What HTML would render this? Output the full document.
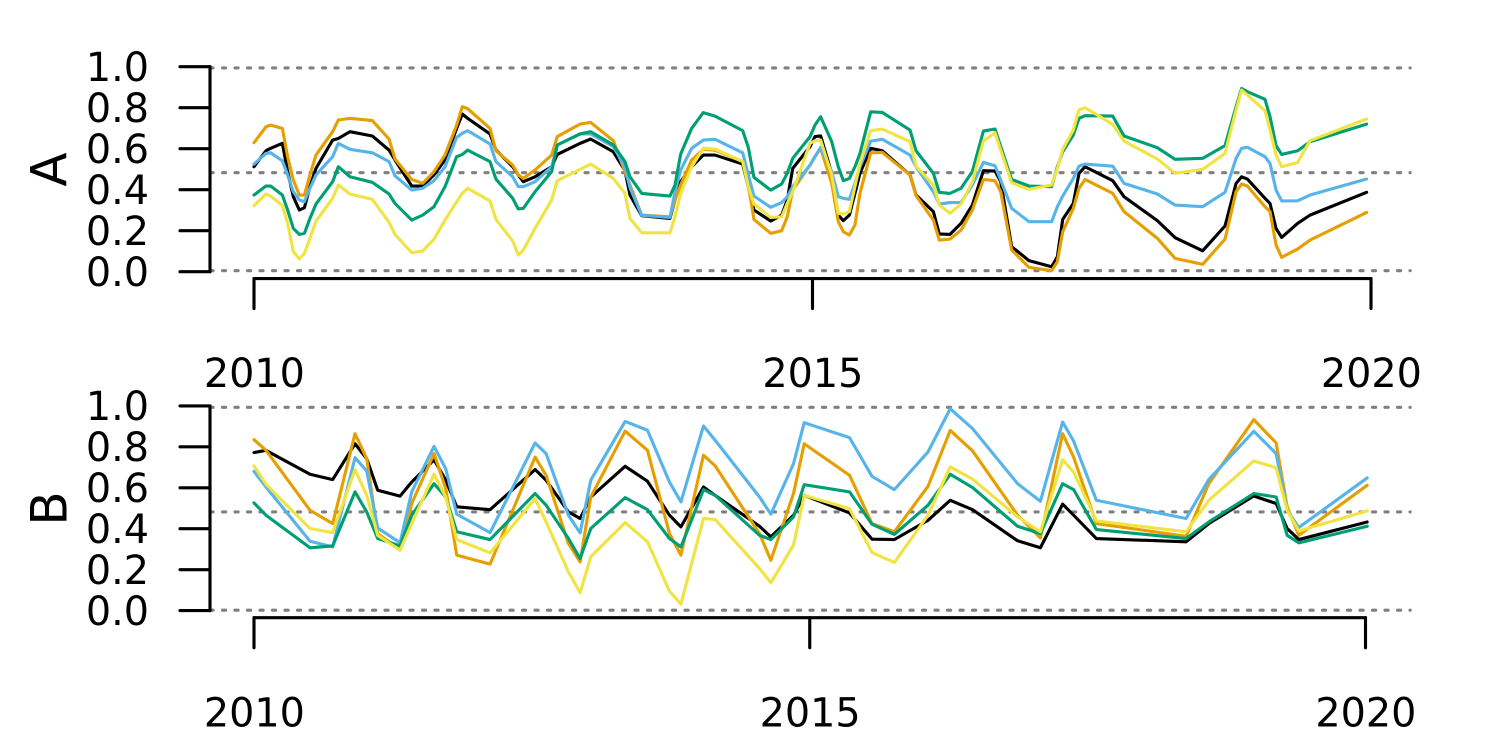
<!DOCTYPE html>
<html lang="en">
<head>
<meta charset="utf-8">
<title>Panels A and B time series, 2010-2020</title>
<style>
html,body{margin:0;padding:0;background:#fff;}
svg{display:block;}
text{font-family:"DejaVu Sans","Liberation Sans",sans-serif;fill:#000;}
</style>
</head>
<body>
<svg id="chart" xmlns="http://www.w3.org/2000/svg" width="1500" height="750" viewBox="0 0 1500 750"></svg>
<script>
const yTicks = [0, 0.2, 0.4, 0.6, 0.8, 1];
const yTickLabels = ["0.0", "0.2", "0.4", "0.6", "0.8", "1.0"];
const xTicks = [2010, 2015, 2020];
const xTickLabels = ["2010", "2015", "2020"];
const seriesNames = ["black", "orange", "blue", "green", "yellow"];
const seriesColors = ["#000000", "#E69F00", "#56B4E9", "#009E73", "#F0E442"];
const refLevelsA = [0.005, 0.483, 0.994];
const refLevelsB = [0.002, 0.482, 0.993];

const timesA = [2010.000,2010.107,2010.149,2010.254,2010.301,2010.352,2010.406,2010.451,2010.501,2010.555,2010.704,2010.755,2010.859,2011.059,2011.209,2011.262,2011.412,2011.510,2011.611,2011.710,2011.814,2011.865,2011.913,2012.113,2012.166,2012.316,2012.366,2012.411,2012.516,2012.665,2012.715,2012.919,2013.014,2013.217,2013.321,2013.366,
2013.471,2013.724,2013.769,2013.820,2013.918,2014.022,2014.127,2014.375,2014.425,2014.476,2014.626,2014.724,2014.774,2014.823,2014.978,2015.022,2015.073,2015.172,2015.231,2015.276,2015.330,2015.380,2015.425,2015.521,2015.625,2015.873,2015.927,2016.082,2016.135,2016.231,2016.330,2016.431,2016.530,2016.634,2016.685,
2016.783,2016.938,2017.141,2017.192,2017.240,2017.335,2017.386,2017.440,2017.688,2017.789,2018.087,2018.246,2018.493,2018.693,2018.792,2018.842,2018.893,2019.051,2019.096,2019.150,2019.200,2019.344,2019.454,2019.961];
const blackA = [.512,.590,.602,.626,.488,.366,.301,.312,.415,.504,.642,.650,.683,.662,.593,.545,.418,.418,.472,.545,.699,.769,.748,.672,.593,.512,.472,.439,.463,.512,.572,.626,.647,.585,.493,.374,
.273,.260,.350,.439,.512,.569,.569,.525,.415,.301,.247,.276,.350,.504,.610,.659,.662,.480,.276,.249,.276,.382,.480,.602,.590,.472,.374,.293,.184,.182,.236,.325,.493,.491,.439,
.122,.054,.024,.073,.255,.333,.480,.512,.444,.366,.249,.166,.102,.223,.431,.463,.452,.358,.333,.211,.167,.236,.276,.387];
const orangeA = [.629,.707,.715,.699,.561,.447,.374,.374,.472,.569,.683,.740,.748,.737,.647,.550,.450,.431,.488,.569,.715,.805,.795,.699,.590,.520,.472,.455,.496,.569,.659,.720,.728,.639,.488,.423,
.276,.268,.350,.423,.545,.597,.593,.537,.423,.255,.187,.200,.268,.398,.520,.561,.602,.431,.244,.195,.179,.228,.382,.580,.582,.472,.371,.252,.154,.159,.203,.301,.450,.444,.390,
.106,.021,.005,.049,.195,.309,.407,.450,.382,.293,.163,.065,.036,.159,.390,.428,.418,.317,.293,.130,.070,.111,.154,.289];
const blueA = [.525,.577,.580,.541,.472,.390,.350,.341,.407,.472,.561,.626,.597,.580,.537,.468,.398,.407,.444,.512,.655,.675,.688,.623,.537,.463,.415,.415,.439,.512,.618,.672,.672,.610,.512,.410,
.275,.265,.390,.496,.602,.642,.646,.580,.472,.369,.314,.337,.366,.415,.520,.561,.607,.488,.366,.358,.353,.431,.512,.637,.646,.569,.512,.390,.330,.337,.338,.423,.533,.517,.447,
.309,.244,.244,.317,.369,.455,.515,.525,.515,.431,.379,.325,.317,.387,.553,.602,.607,.561,.528,.398,.345,.346,.374,.452];
const greenA = [.374,.418,.418,.374,.301,.211,.182,.187,.260,.330,.439,.512,.463,.436,.379,.333,.252,.276,.317,.415,.561,.572,.593,.537,.452,.358,.306,.309,.390,.488,.618,.672,.683,.618,.537,.463,
.382,.369,.423,.574,.699,.776,.759,.688,.607,.460,.398,.428,.480,.553,.659,.715,.756,.634,.512,.444,.455,.512,.577,.780,.777,.691,.590,.480,.387,.382,.407,.488,.686,.696,.610,
.450,.418,.415,.512,.585,.667,.748,.761,.759,.662,.605,.548,.553,.615,.805,.894,.878,.841,.756,.615,.572,.590,.634,.720];
const yellowA = [.322,.379,.369,.322,.236,.098,.062,.089,.163,.247,.358,.423,.379,.353,.241,.182,.093,.101,.158,.252,.341,.382,.407,.345,.255,.150,.081,.106,.211,.350,.444,.499,.525,.455,.382,.260,
.190,.190,.268,.382,.512,.602,.598,.537,.415,.330,.265,.268,.333,.390,.626,.639,.642,.472,.285,.281,.293,.415,.528,.688,.696,.634,.515,.423,.325,.285,.330,.439,.637,.678,.593,
.434,.402,.423,.504,.597,.691,.789,.800,.719,.637,.550,.480,.499,.577,.789,.886,.862,.785,.691,.569,.512,.533,.639,.745];

const timesB = [2010.000,2010.108,2010.504,2010.708,2010.909,2011.014,2011.113,2011.314,2011.419,2011.620,2011.725,2011.824,2012.124,2012.529,2012.628,2012.829,2012.934,2013.030,2013.339,
2013.540,2013.738,2013.841,2014.044,2014.149,2014.548,2014.650,2014.854,2014.950,2015.358,2015.560,2015.761,2016.064,2016.264,2016.465,2016.870,
2017.075,2017.275,2017.374,2017.579,2018.386,2018.590,2018.995,2019.196,2019.295,2019.400,2020.015];
const blackB = [.772,.783,.666,.640,.815,.742,.588,.559,.628,.737,.637,.507,.493,.689,.637,.482,.450,.555,.705,
.632,.466,.409,.604,.563,.412,.360,.466,.563,.477,.349,.347,.441,.539,.493,.341,
.307,.520,.466,.352,.336,.425,.560,.523,.401,.347,.433];
const orangeB = [.835,.783,.490,.425,.864,.742,.376,.298,.523,.767,.596,.271,.227,.750,.661,.328,.238,.555,.877,
.783,.376,.271,.759,.707,.376,.246,.572,.815,.661,.425,.385,.607,.880,.780,.466,
.355,.864,.750,.425,.363,.620,.933,.819,.507,.368,.612];
const blueB = [.680,.604,.339,.311,.747,.682,.404,.331,.580,.802,.693,.471,.381,.819,.767,.466,.380,.637,.924,
.881,.628,.531,.902,.832,.555,.471,.718,.918,.845,.656,.591,.775,.986,.889,.620,
.534,.921,.828,.539,.450,.640,.876,.767,.490,.406,.648];
const greenB = [.526,.466,.307,.316,.580,.482,.352,.316,.466,.620,.555,.385,.347,.572,.515,.352,.254,.401,.552,
.493,.352,.311,.591,.563,.368,.347,.458,.615,.580,.422,.372,.515,.666,.601,.412,
.376,.620,.591,.396,.352,.433,.572,.555,.368,.331,.412];
const yellowB = [.707,.617,.401,.381,.689,.563,.368,.295,.425,.666,.555,.347,.282,.547,.433,.189,.087,.263,.430,
.336,.095,.032,.450,.445,.206,.136,.320,.563,.498,.284,.235,.466,.702,.642,.458,
.385,.737,.677,.438,.385,.539,.731,.698,.490,.389,.487];

const svg = document.getElementById('chart');
const NS = 'http://www.w3.org/2000/svg';
const LW = 3.125;

function make(tag, attrs, parent) {
  const el = document.createElementNS(NS, tag);
  for (const k in attrs) el.setAttribute(k, attrs[k]);
  parent.appendChild(el);
  return el;
}

function drawPanel(cfg) {
  const scaleX = t => cfg.x0 + (t - 2010) * (cfg.x1 - cfg.x0) / 10;
  const scaleY = v => cfg.y0 + (cfg.y1 - cfg.y0) * v;
  const key = cfg.title.toLowerCase();

  const panel = make('g', {}, svg);
  
  

  cfg.refLevels.forEach(level => {
    const ref = make('line', {x1: 210, x2: 1410.2, y1: scaleY(level), y2: scaleY(level), stroke: '#808080', 'stroke-width': LW, 'stroke-dasharray': '3.125 9.375', 'stroke-linecap': 'round'}, panel);
    
    
  });

  cfg.series.forEach((values, i) => {
    const points = values.map((v, j) => scaleX(cfg.times[j]).toFixed(2) + ',' + scaleY(v).toFixed(2)).join(' ');
    const line = make('polyline', {points: points, fill: 'none', stroke: seriesColors[i], 'stroke-width': LW, 'stroke-linejoin': 'round', 'stroke-linecap': 'round'}, panel);
    
    
  });

  const yAxis = make('g', {}, panel);
  
  
  const yLine = make('line', {x1: 210, x2: 210, y1: scaleY(0), y2: scaleY(1), stroke: '#000', 'stroke-width': LW, 'stroke-linecap': 'round'}, yAxis);
  
  
  yTicks.forEach((t, i) => {
    const tick = make('line', {x1: 180, x2: 210, y1: scaleY(t), y2: scaleY(t), stroke: '#000', 'stroke-width': LW, 'stroke-linecap': 'round'}, yAxis);
    
    
    const label = make('text', {x: 149, y: scaleY(t) + 14.3, 'text-anchor': 'end', 'font-size': 39.7}, yAxis);
    label.textContent = yTickLabels[i];
    
    
  });

  const xAxis = make('g', {}, panel);
  
  
  const xLine = make('line', {x1: scaleX(2010), x2: scaleX(2020), y1: cfg.axisY, y2: cfg.axisY, stroke: '#000', 'stroke-width': LW, 'stroke-linecap': 'round'}, xAxis);
  
  
  xTicks.forEach((t, i) => {
    const tick = make('line', {x1: scaleX(t), x2: scaleX(t), y1: cfg.axisY, y2: cfg.axisY + 30, stroke: '#000', 'stroke-width': LW, 'stroke-linecap': 'round'}, xAxis);
    
    
    const label = make('text', {x: scaleX(t) + 0.4, y: cfg.labelY, 'text-anchor': 'middle', 'font-size': 39.7}, xAxis);
    label.textContent = xTickLabels[i];
    
    
  });

  const title = make('text', {transform: 'translate(66.5 ' + cfg.titleY + ') rotate(-90)', 'text-anchor': 'middle', 'font-size': 50}, panel);
  title.textContent = cfg.title;
  
  
}

drawPanel({title: 'A', x0: 254, x1: 1371, y0: 271.7, y1: 66.7, axisY: 278.5, labelY: 387, titleY: 169.5, refLevels: refLevelsA, times: timesA, series: [blackA, orangeA, blueA, greenA, yellowA]});
drawPanel({title: 'B', x0: 254, x1: 1365.5, y0: 610.6, y1: 405.9, axisY: 617.7, labelY: 726.5, titleY: 508.5, refLevels: refLevelsB, times: timesB, series: [blackB, orangeB, blueB, greenB, yellowB]});
</script>
</body>
</html>
